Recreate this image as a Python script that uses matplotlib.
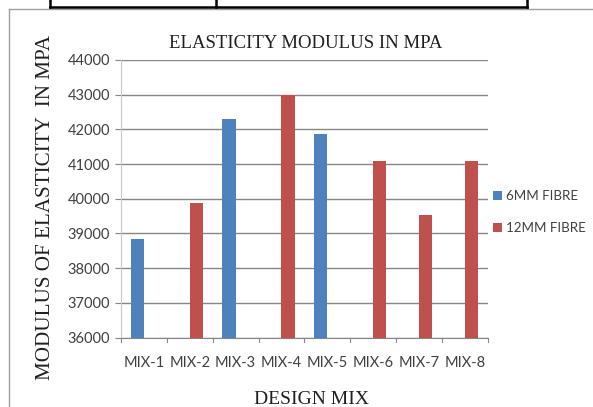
import matplotlib.pyplot as plt
from matplotlib.lines import Line2D
import numpy as np

# data
mixes = ["MIX-1", "MIX-2", "MIX-3", "MIX-4", "MIX-5", "MIX-6", "MIX-7", "MIX-8"]
fibre_6mm = [38840, np.nan, 42300, np.nan, 41880, np.nan, np.nan, np.nan]
fibre_12mm = [np.nan, 39880, np.nan, 42990, np.nan, 41100, 39530, 41080]
y_ticks = [36000, 37000, 38000, 39000, 40000, 41000, 42000, 43000, 44000]

W, H = 593, 407
fig = plt.figure(figsize=(W / 100, H / 100), dpi=100)
ax = fig.add_axes([121 / W, 1 - 337.5 / H, (487.7 - 121) / W, (337.5 - 60) / H])

x = np.arange(len(mixes))
bw = 0.29
ax.bar(x - bw / 2, fibre_6mm, bw, color="#4F81BD", label="6MM FIBRE", zorder=3)
ax.bar(x + bw / 2, fibre_12mm, bw, color="#C0504D", label="12MM FIBRE", zorder=3)

tick_font = {"family": "Lato", "size": 10.5}
ax.set_ylim(36000, 44000)
ax.set_xlim(-0.5, len(mixes) - 0.5)
ax.set_yticks(y_ticks)
ax.set_yticklabels([str(v) for v in y_ticks], **tick_font)
ax.set_xticks(x)
ax.set_xticklabels(mixes, **tick_font)
ax.tick_params(axis="x", length=0, pad=13, colors="#404040")
ax.tick_params(axis="y", length=4, color="#868686", colors="#404040", pad=4)
for b in np.arange(-0.5, len(mixes), 1.0):
    ax.plot([b, b], [0, -0.018], transform=ax.get_xaxis_transform(), color="#868686",
            lw=0.8, clip_on=False)
ax.grid(axis="y", color="#868686", lw=1, zorder=0)
for s in ["top", "right"]:
    ax.spines[s].set_visible(False)
ax.spines["left"].set_color("#c8c8c8")
ax.spines["bottom"].set_color("#868686")

fig.text(306 / W, 1 - 44 / H, "ELASTICITY MODULUS IN MPA", ha="center", va="center",
         fontsize=13.5, family="Liberation Serif", color="#202020")
fig.text(46 / W, 1 - 207 / H, "MODULUS OF ELASTICITY  IN MPA", rotation=90, ha="center",
         va="center", fontsize=15.2, family="Liberation Serif", color="#202020")
fig.text(312 / W, 1 - 399 / H, "DESIGN MIX", ha="center", va="center",
         fontsize=14, family="Liberation Serif", color="#202020")

leg = fig.legend(loc="upper left", bbox_to_anchor=(481 / W, 1 - 178 / H), frameon=False,
                 prop={"family": "Lato", "size": 9.6}, handlelength=0.7, handleheight=0.7,
                 handletextpad=0.25, labelspacing=1.5)
for t in leg.get_texts():
    t.set_color("#404040")

# page frame and table edge around the chart
def pline(xs, ys, **kw):
    fig.add_artist(Line2D([v / W for v in xs], [1 - v / H for v in ys], **kw))

pline([9, 593], [9, 9], color="#a0a0a0", lw=1)
pline([9, 9], [9, 407], color="#a0a0a0", lw=1)
pline([50, 527], [7, 7], color="black", lw=1.8)
for xv in [50, 216, 527]:
    pline([xv, xv], [0, 7], color="black", lw=1.8)

fig.savefig("out.png", dpi=100)
